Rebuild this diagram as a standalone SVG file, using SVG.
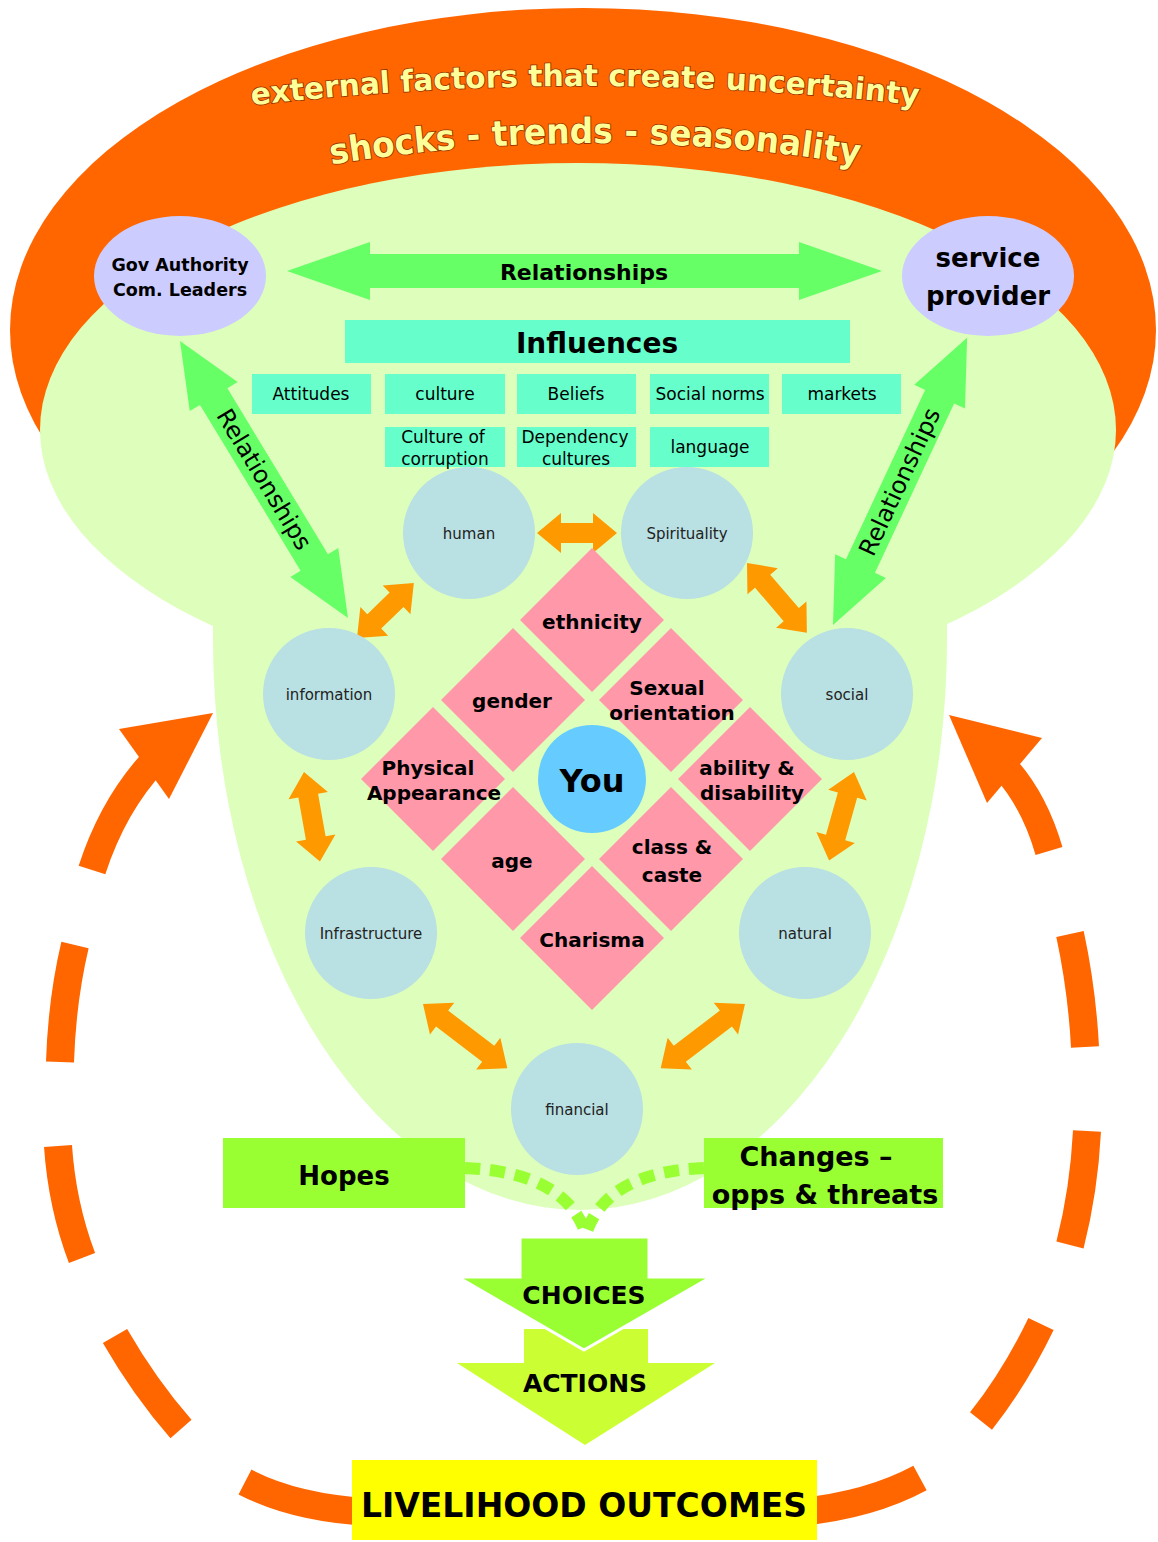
<svg xmlns="http://www.w3.org/2000/svg" width="1158" height="1542" viewBox="0 0 1158 1542">
<style>
text{font-family:"Comic Sans MS","DejaVu Sans",sans-serif;fill:#000;text-anchor:middle}
.b{font-weight:bold}
.arc{font-family:"Liberation Sans Narrow","DejaVu Sans Condensed","Liberation Sans",sans-serif;font-weight:bold;fill:#FFFF99;stroke:#993300;stroke-width:1.6;paint-order:stroke}
.loop{fill:none;stroke:#FF6600;stroke-width:28;stroke-linecap:butt}
.oh{fill:#FF6600}
.cap{fill:#B9E0E3}
.dia{fill:#FF99AA}
.inf{fill:#66FFCC}
.ga{fill:#66FF66}
.oa{fill:#FF9900}
.lav{fill:#CCCCFF}
.small{font-size:17px}
.circ{font-size:15px;fill:#222}
.dt{font-size:20px;font-weight:bold}
</style>
<defs>
<path id="arc1" d="M 230 108 Q 585 64 940 108"/>
<path id="arc2" d="M 300 170 Q 595 116 890 170"/>
</defs>
<rect width="1158" height="1542" fill="#FFFFFF"/>

<g id="external-factors">
<ellipse cx="583" cy="330" rx="573" ry="322" fill="#FF6600"/>
</g>

<g id="loop">
<path class="loop" d="M 92 870 C 105 830 125 792 155 760"/>
<polygon class="oh" points="213,713 119,729 169,799"/>
<path class="loop" d="M 75 945 Q 62 1000 60 1062"/>
<path class="loop" d="M 58 1146 Q 62 1205 82 1258"/>
<path class="loop" d="M 115 1336 Q 145 1388 181 1429"/>
<path class="loop" d="M 245 1482 Q 295 1508 370 1512"/>
<path class="loop" d="M 1049 851 C 1040 820 1025 790 1005 768"/>
<polygon class="oh" points="949,715 1042,738 987,803"/>
<path class="loop" d="M 1070 934 Q 1082 990 1085 1047"/>
<path class="loop" d="M 1087 1131 Q 1084 1190 1070 1245"/>
<path class="loop" d="M 1041 1324 Q 1015 1378 981 1421"/>
<path class="loop" d="M 920 1478 Q 870 1505 800 1512"/>
</g>

<g id="blob">
<ellipse cx="578" cy="430" rx="538" ry="267" fill="#DDFFBB"/>
<path d="M 213 560 L 213 640 A 367 570 0 0 0 947 640 L 947 560 Z" fill="#DDFFBB"/>
</g>

<g id="title-text">
<text class="arc" font-size="30"><textPath href="#arc1" startOffset="50%" textLength="668" lengthAdjust="spacingAndGlyphs">external factors that create uncertainty</textPath></text>
<text class="arc" font-size="35"><textPath href="#arc2" startOffset="50%" textLength="530" lengthAdjust="spacingAndGlyphs">shocks - trends - seasonality</textPath></text>
</g>

<g id="connectors">
<g id="rel-top">
<polygon class="ga" points="287,271 370,242 370,254 799,254 799,242 882,271 799,300 799,288 370,288 370,300"/>
<text class="b" x="584" y="280" font-size="22">Relationships</text>
</g>
<g id="rel-left" transform="translate(180,341) rotate(58.77)">
<polygon class="ga" points="0,0 65,-28 65,-16 259,-16 259,-28 324,0 259,28 259,16 65,16 65,28"/>
<text x="162" y="8" font-size="24">Relationships</text>
</g>
<g id="rel-right" transform="translate(833,625) rotate(-64.97)">
<polygon class="ga" points="0,0 65,-28 65,-16 252,-16 252,-28 317,0 252,28 252,16 65,16 65,28"/>
<text x="158" y="8" font-size="24">Relationships</text>
</g>
<polygon class="oa" transform="translate(537,533)" points="0,0 24,-20 24,-10 56,-10 56,-20 80,0 56,20 56,10 24,10 24,20"/>
<polygon class="oa" transform="translate(357,638) rotate(-44)" points="0,0 24,-20 24,-10 55,-10 55,-20 79,0 55,20 55,10 24,10 24,20"/>
<polygon class="oa" transform="translate(747,563) rotate(49.4)" points="0,0 24,-20 24,-10 68,-10 68,-20 92,0 68,20 68,10 24,10 24,20"/>
<polygon class="oa" transform="translate(304,772) rotate(79.9)" points="0,0 24,-20 24,-10 67,-10 67,-20 91,0 67,20 67,10 24,10 24,20"/>
<polygon class="oa" transform="translate(854,772) rotate(105.7)" points="0,0 24,-20 24,-10 68,-10 68,-20 92,0 68,20 68,10 24,10 24,20"/>
<polygon class="oa" transform="translate(423,1004) rotate(37.3)" points="0,0 24,-20 24,-10 82,-10 82,-20 106,0 82,20 82,10 24,10 24,20"/>
<polygon class="oa" transform="translate(745,1004) rotate(142.7)" points="0,0 24,-20 24,-10 82,-10 82,-20 106,0 82,20 82,10 24,10 24,20"/>
<path d="M 465 1168 Q 565 1172 586 1234 M 704 1168 Q 606 1172 586 1234" fill="none" stroke="#99FF33" stroke-width="12" stroke-dasharray="15 10"/>
</g>

<g id="gov-authority">
<ellipse class="lav" cx="180" cy="276" rx="86" ry="60"/>
<text class="b" x="180" y="271" font-size="17.5">Gov Authority</text>
<text class="b" x="180" y="296" font-size="17.5">Com. Leaders</text>
</g>
<g id="service-provider">
<ellipse class="lav" cx="988" cy="276" rx="86" ry="60"/>
<text class="b" x="988" y="267" font-size="26">service</text>
<text class="b" x="988" y="305" font-size="26">provider</text>
</g>

<g id="influences">
<rect class="inf" x="345" y="320" width="505" height="43"/>
<text class="b" x="597" y="353" font-size="28">Influences</text>
</g>
<g id="attitudes"><rect class="inf" x="252" y="374" width="119" height="40"/><text class="small" x="311" y="400">Attitudes</text></g>
<g id="culture"><rect class="inf" x="385" y="374" width="120" height="40"/><text class="small" x="445" y="400">culture</text></g>
<g id="beliefs"><rect class="inf" x="517" y="374" width="119" height="40"/><text class="small" x="576" y="400">Beliefs</text></g>
<g id="social-norms"><rect class="inf" x="650" y="374" width="119" height="40"/><text class="small" x="710" y="400">Social norms</text></g>
<g id="markets"><rect class="inf" x="782" y="374" width="119" height="40"/><text class="small" x="842" y="400">markets</text></g>
<g id="culture-corruption"><rect class="inf" x="385" y="427" width="120" height="40"/><text class="small" x="443" y="443">Culture of</text><text class="small" x="445" y="465">corruption</text></g>
<g id="dependency"><rect class="inf" x="517" y="427" width="119" height="40"/><text class="small" x="575" y="443">Dependency</text><text class="small" x="576" y="465">cultures</text></g>
<g id="language"><rect class="inf" x="650" y="427" width="119" height="40"/><text class="small" x="710" y="453">language</text></g>

<g id="human"><circle class="cap" cx="469" cy="533" r="66"/><text class="circ" x="469" y="539">human</text></g>
<g id="spirituality"><circle class="cap" cx="687" cy="533" r="66"/><text class="circ" x="687" y="539">Spirituality</text></g>
<g id="information"><circle class="cap" cx="329" cy="694" r="66"/><text class="circ" x="329" y="700">information</text></g>
<g id="social"><circle class="cap" cx="847" cy="694" r="66"/><text class="circ" x="847" y="700">social</text></g>
<g id="infrastructure"><circle class="cap" cx="371" cy="933" r="66"/><text class="circ" x="371" y="939">Infrastructure</text></g>
<g id="natural"><circle class="cap" cx="805" cy="933" r="66"/><text class="circ" x="805" y="939">natural</text></g>
<g id="financial"><circle class="cap" cx="577" cy="1109" r="66"/><text class="circ" x="577" y="1115">financial</text></g>

<g id="ethnicity"><polygon class="dia" points="592,548 664,620 592,692 520,620"/><text class="dt" x="592" y="629">ethnicity</text></g>
<g id="gender"><polygon class="dia" points="513,628 585,700 513,772 441,700"/><text class="dt" x="512" y="708">gender</text></g>
<g id="sexual-orientation"><polygon class="dia" points="671,628 743,700 671,772 599,700"/><text class="dt" x="667" y="695" font-size="19">Sexual</text><text class="dt" x="672" y="720" font-size="19">orientation</text></g>
<g id="physical-appearance"><polygon class="dia" points="433,707 505,779 433,851 361,779"/><text class="dt" x="428" y="775" font-size="19">Physical</text><text class="dt" x="434" y="800" font-size="19">Appearance</text></g>
<g id="ability"><polygon class="dia" points="750,707 822,779 750,851 678,779"/><text class="dt" x="747" y="775" font-size="19">ability &amp;</text><text class="dt" x="752" y="800" font-size="19">disability</text></g>
<g id="age"><polygon class="dia" points="513,787 585,859 513,931 441,859"/><text class="dt" x="512" y="868">age</text></g>
<g id="class-caste"><polygon class="dia" points="671,787 743,859 671,931 599,859"/><text class="dt" x="672" y="854">class &amp;</text><text class="dt" x="672" y="882">caste</text></g>
<g id="charisma"><polygon class="dia" points="592,866 664,938 592,1010 520,938"/><text class="dt" x="592" y="947">Charisma</text></g>
<g id="you"><circle cx="592" cy="779" r="54" fill="#66CCFF"/><text class="b" x="592" y="792" font-size="32">You</text></g>

<g id="hopes"><rect x="223" y="1138" width="242" height="70" fill="#99FF33"/><text class="b" x="344" y="1185" font-size="26">Hopes</text></g>
<g id="changes"><rect x="704" y="1138" width="239" height="70" fill="#99FF33"/><text class="b" x="816" y="1166" font-size="27">Changes –</text><text class="b" x="825" y="1204" font-size="27">opps &amp; threats</text></g>

<g id="actions"><polygon points="524,1329 648,1329 648,1363 715,1363 585,1445 457,1363 524,1363" fill="#CCFF33"/><text class="b" x="585" y="1392" font-size="25">ACTIONS</text></g>
<g id="choices"><polygon points="520,1237 649,1237 649,1277 711,1277 584,1350 458,1277 520,1277" fill="#99FF33" stroke="#FFFFFF" stroke-width="3" stroke-linejoin="miter"/><text class="b" x="584" y="1304" font-size="25">CHOICES</text></g>

<g id="livelihood"><rect x="352" y="1460" width="465" height="80" fill="#FFFF00"/><text class="b" x="584" y="1517" font-size="33">LIVELIHOOD OUTCOMES</text></g>
</svg>
